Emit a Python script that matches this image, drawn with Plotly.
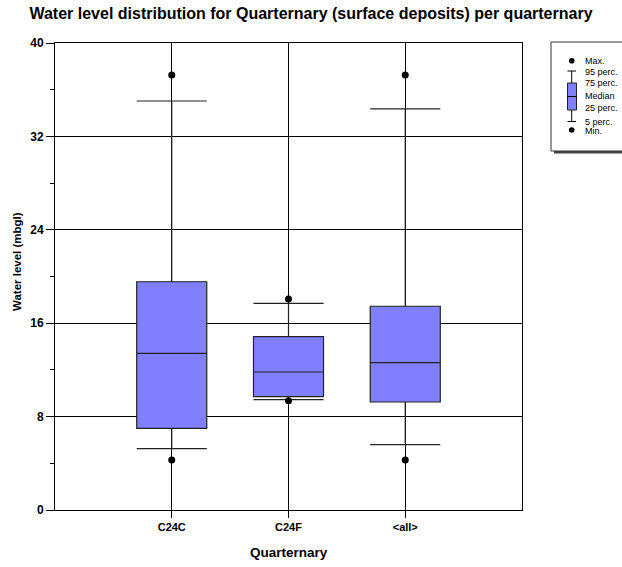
import plotly.graph_objects as go

categories = ["C24C", "C24F", "<all>"]
v_min = [4.28, 9.36, 4.28]
p05 = [5.25, 9.45, 5.6]
p25 = [7.0, 9.71, 9.25]
median = [13.42, 11.82, 12.62]
p75 = [19.55, 14.85, 17.45]
p95 = [35.03, 17.7, 34.35]
v_max = [37.26, 18.07, 37.26]

legend_labels = ["Max.", "95 perc.", "75 perc.", "Median", "25 perc.", "5 perc.", "Min."]

W, H = 622, 567
L, R, T, B = 55, 522, 43, 510
FONT = "Liberation Sans, Arial, sans-serif"


def px(x):
    return (x - L) / (R - L)


def py(y):
    return (B - y) / (B - T)


fig = go.Figure()
fig.add_trace(go.Box(
    x=categories, q1=p25, median=median, q3=p75,
    lowerfence=p05, upperfence=p95,
    width=0.6, whiskerwidth=1,
    fillcolor="#8080ff", line=dict(color="#222222", width=1.2),
    boxpoints=False, hoverinfo="skip", showlegend=False,
))
fig.add_trace(go.Scatter(
    x=categories + categories, y=v_max + v_min, mode="markers",
    marker=dict(color="black", size=7), showlegend=False, hoverinfo="skip",
))

# legend box
shapes = []
shapes.append(dict(type="rect", xref="paper", yref="paper",
                   x0=px(554), x1=px(626), y0=py(153.5), y1=py(151),
                   fillcolor="#444444", line=dict(width=0)))
shapes.append(dict(type="rect", xref="paper", yref="paper",
                   x0=px(551), x1=px(624), y0=py(151), y1=py(42),
                   fillcolor="white", line=dict(color="#333333", width=1)))
gx = 571.7
shapes.append(dict(type="line", xref="paper", yref="paper",
                   x0=px(gx), x1=px(gx), y0=py(71), y1=py(121.5),
                   line=dict(color="black", width=1)))
for yy in (71, 121.5):
    shapes.append(dict(type="line", xref="paper", yref="paper",
                       x0=px(567.5), x1=px(576), y0=py(yy), y1=py(yy),
                       line=dict(color="black", width=1)))
shapes.append(dict(type="rect", xref="paper", yref="paper",
                   x0=px(567.5), x1=px(576.5), y0=py(110), y1=py(83),
                   fillcolor="#8080ff", line=dict(color="#222222", width=1)))
shapes.append(dict(type="line", xref="paper", yref="paper",
                   x0=px(567.5), x1=px(576.5), y0=py(96.5), y1=py(96.5),
                   line=dict(color="black", width=1)))
for yy in (60.7, 130):
    shapes.append(dict(type="circle", xref="paper", yref="paper",
                       x0=px(gx - 2.8), x1=px(gx + 2.8), y0=py(yy + 2.8), y1=py(yy - 2.8),
                       fillcolor="black", line=dict(width=0)))

annotations = []
leg_y = [60.7, 71.7, 83.3, 96, 108.3, 121.7, 130.5]
for lab, yy in zip(legend_labels, leg_y):
    annotations.append(dict(text=lab, xref="paper", yref="paper", x=px(583), y=py(yy),
                            xanchor="left", yanchor="middle", showarrow=False,
                            font=dict(family=FONT, size=9, color="black")))
annotations.append(dict(text="<b>Water level (mbgl)</b>", xref="paper", yref="paper",
                        x=px(17), y=py(262), textangle=-90, xanchor="center", yanchor="middle",
                        showarrow=False, font=dict(family=FONT, size=11.5, color="black")))
annotations.append(dict(text="<b>Quarternary</b>", xref="paper", yref="paper",
                        x=0.5, y=py(552), xanchor="center", yanchor="middle",
                        showarrow=False, font=dict(family=FONT, size=13.5, color="black")))

fig.update_layout(
    width=W, height=H,
    margin=dict(l=L, r=W - R, t=T, b=H - B, pad=0),
    paper_bgcolor="white", plot_bgcolor="white",
    title=dict(text="<b>Water level distribution for Quarternary (surface deposits) per quarternary</b>",
               x=0.5, xref="container", xanchor="center",
               y=1 - 13.5 / H, yref="container", yanchor="middle",
               font=dict(family=FONT, size=16, color="black")),
    xaxis=dict(type="category", range=[-1, 3], showgrid=True, gridcolor="black", gridwidth=1,
               ticks="outside", ticklen=7, tickcolor="black", showline=True, linecolor="black",
               linewidth=1, mirror=True, zeroline=False,
               tickfont=dict(family=FONT, size=11, color="black"), tickprefix="<b>", ticksuffix="</b>"),
    yaxis=dict(range=[0, 40], tick0=0, dtick=8, showgrid=True, gridcolor="black", gridwidth=1,
               ticks="outside", ticklen=8, tickcolor="black", showline=True, linecolor="black",
               linewidth=1, mirror=True, zeroline=False,
               minor=dict(dtick=4, tick0=0, ticks="outside", ticklen=4, tickcolor="black", showgrid=False),
               tickfont=dict(family=FONT, size=12, color="black"), tickprefix="<b>", ticksuffix="</b>"),
    shapes=shapes, annotations=annotations,
    font=dict(family=FONT, color="black"),
)

fig.write_html("out.html")
